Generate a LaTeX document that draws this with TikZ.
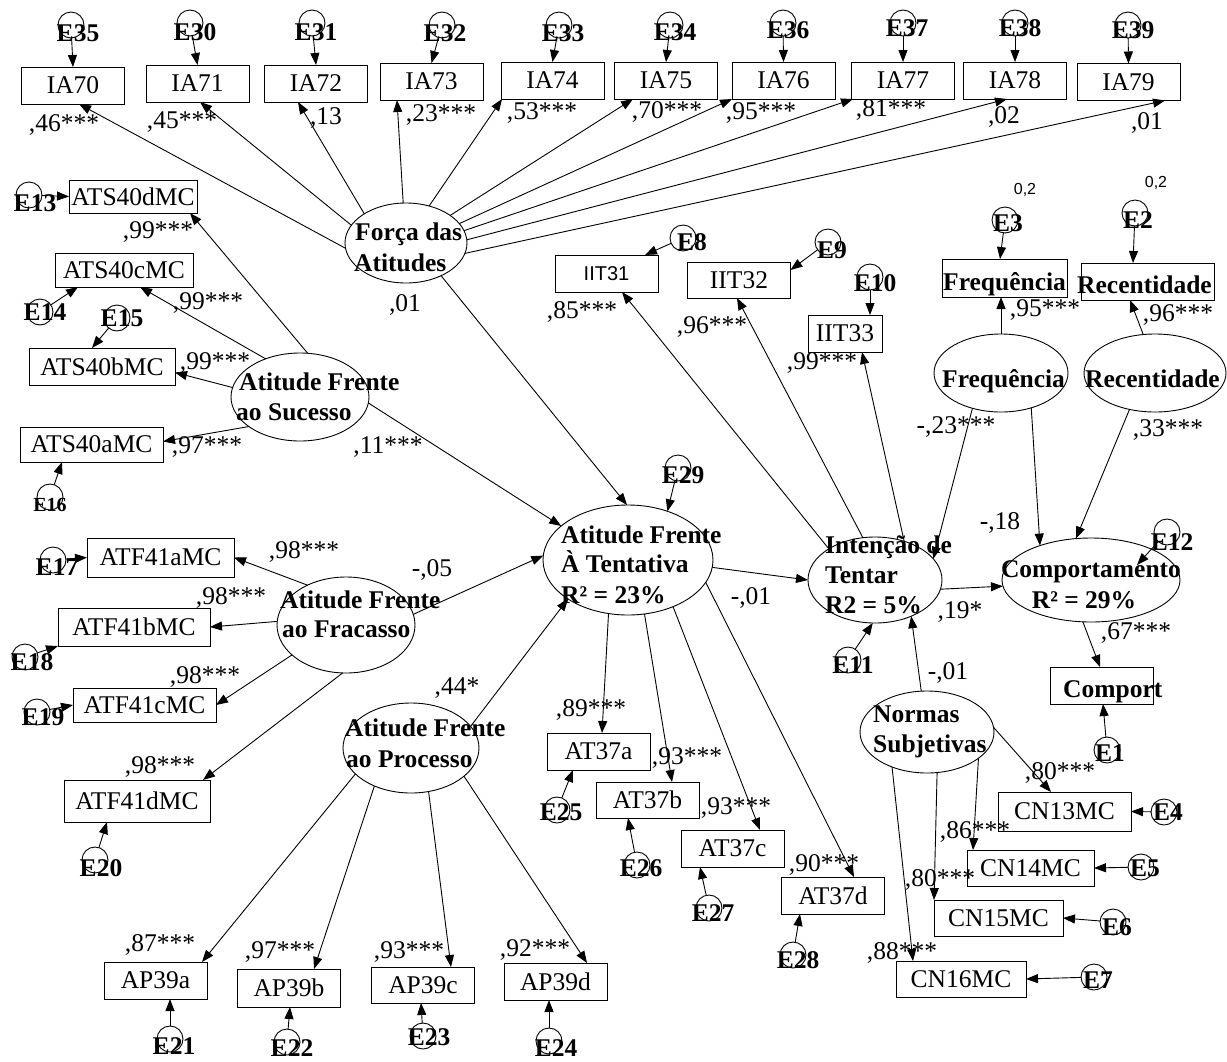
\documentclass[tikz,border=0pt]{standalone}
\usepackage{fontspec}
\setmainfont{Liberation Serif}
\newfontfamily\sanslab{Liberation Sans}
\usetikzlibrary{shapes.geometric,arrows.meta}
\newcommand\labsize{\fontsize{25.5}{30}\selectfont}

\begin{document}
\begin{tikzpicture}[x=1pt,y=-1pt,
  obs/.style={draw, rectangle, inner sep=0pt, outer sep=0pt, line width=0.9pt, font=\labsize},
  sbox/.style={obs, minimum width=103pt, minimum height=37pt},
  lat/.style={draw, ellipse, inner sep=0pt, outer sep=0pt, line width=0.9pt},
  err/.style={draw, circle, minimum size=26pt, inner sep=0pt, outer sep=0pt, line width=0.9pt},
  elab/.style={font=\labsize\bfseries, inner sep=0pt},
  ltxt/.style={font=\labsize\bfseries, inner sep=0pt, anchor=base west},
  coef/.style={font=\labsize, inner sep=0pt},
  small/.style={font=\sanslab\fontsize{16}{18}\selectfont, inner sep=0pt},
  arr/.style={-{Triangle[length=12pt,width=9pt]}, line width=0.9pt},
]
\fill[white] (0,0) rectangle (1227,1061);
\useasboundingbox (0,0) rectangle (1227,1061);

% ---------- latent variables ----------
\node[lat, minimum width=122pt, minimum height=80pt]  (forca) at (406,243) {};
\node[lat, minimum width=138pt, minimum height=88pt]  (ats)   at (300,397) {};
\node[lat, minimum width=138pt, minimum height=96pt]  (fra)   at (346,625) {};
\node[lat, minimum width=136pt, minimum height=90pt]  (pro)   at (411,748) {};
\node[lat, minimum width=170pt, minimum height=110pt] (att)   at (628,560) {};
\node[lat, minimum width=134pt, minimum height=86pt]  (int)   at (875,580) {};
\node[lat, minimum width=178pt, minimum height=84pt]  (com)   at (1091,580) {};
\node[lat, minimum width=134pt, minimum height=82pt]  (nor)   at (927,732) {};
\node[lat, minimum width=134pt, minimum height=78pt]  (freq)  at (1001,373) {};
\node[lat, minimum width=142pt, minimum height=78pt]  (rec)   at (1155,373) {};

\node[ltxt] (forca-a) at (355,240) {Força das};
\node[ltxt] (forca-b) at (354,271) {Atitudes};
\node[ltxt] (ats-a) at (239,390) {Atitude Frente};
\node[ltxt] (ats-b) at (236,420) {ao Sucesso};
\node[ltxt] (fra-a) at (280,608) {Atitude Frente};
\node[ltxt] (fra-b) at (282,637) {ao Fracasso};
\node[ltxt] (pro-a) at (345,736) {Atitude Frente};
\node[ltxt] (pro-b) at (346,767) {ao Processo};
\node[ltxt] (att-a) at (561,543) {Atitude Frente};
\node[ltxt] (att-b) at (561,572) {À Tentativa};
\node[ltxt] (att-c) at (561,603) {R² = 23\%};
\node[ltxt] (int-a) at (825,553) {Intenção de};
\node[ltxt] (int-b) at (825,583) {Tentar};
\node[ltxt] (int-c) at (825,613) {R2 = 5\%};
\node[ltxt, anchor=base] (com-a) at (1091,577) {Comportamento};
\node[ltxt, anchor=base] (com-b) at (1084,608) {R² = 29\%};
\node[ltxt] (nor-a) at (873,722) {Normas};
\node[ltxt] (nor-b) at (873,752) {Subjetivas};
\node[ltxt] (freq-a) at (942,387) {Frequência};
\node[ltxt] (rec-a) at (1085,387) {Recentidade};

% ---------- observed variables ----------
\node[sbox] (ia70) at (73,85.5) {IA70};
\node[sbox] (ia71) at (197.5,83.5) {IA71};
\node[sbox] (ia72) at (316,83.5) {IA72};
\node[sbox] (ia73) at (431.5,81.5) {IA73};
\node[sbox] (ia74) at (552.5,80.5) {IA74};
\node[sbox] (ia75) at (666,80.5) {IA75};
\node[sbox] (ia76) at (783.5,80.5) {IA76};
\node[sbox] (ia77) at (903,80.5) {IA77};
\node[sbox] (ia78) at (1015,80.5) {IA78};
\node[sbox] (ia79) at (1128.5,82) {IA79};

\node[obs, minimum width=128pt, minimum height=33pt] (ats40d) at (133,196.5) {ATS40dMC};
\node[obs, minimum width=138pt, minimum height=34pt] (ats40c) at (124,270) {ATS40cMC};
\node[obs, minimum width=146pt, minimum height=37pt] (ats40b) at (102,366.5) {ATS40bMC};
\node[obs, minimum width=143pt, minimum height=35pt] (ats40a) at (91.5,444.5) {ATS40aMC};

\node[obs, minimum width=147pt, minimum height=39pt] (atf41a) at (160.5,557.5) {ATF41aMC};
\node[obs, minimum width=152pt, minimum height=38pt] (atf41b) at (134,627) {ATF41bMC};
\node[obs, minimum width=143pt, minimum height=34pt] (atf41c) at (144.5,705) {ATF41cMC};
\node[obs, minimum width=146pt, minimum height=42pt] (atf41d) at (137,801) {ATF41dMC};

\node[sbox] (ap39a) at (155.5,980.5) {AP39a};
\node[sbox, minimum height=38pt] (ap39b) at (289,988) {AP39b};
\node[sbox, minimum height=36pt] (ap39c) at (423,985) {AP39c};
\node[sbox] (ap39d) at (555.5,981.5) {AP39d};

\node[sbox] (at37a) at (598.5,751.5) {AT37a};
\node[sbox, minimum height=36pt] (at37b) at (647.5,800) {AT37b};
\node[sbox] (at37c) at (732.5,848.5) {AT37c};
\node[sbox] (at37d) at (833,895.5) {AT37d};

\node[sbox, font=\sanslab\fontsize{20}{24}\selectfont] (iit31) at (606.5,273.5) {IIT31};
\node[sbox, minimum height=36pt] (iit32) at (739,280) {IIT32};
\node[obs, minimum width=74pt, minimum height=37pt] (iit33) at (845,333.5) {IIT33};

\node[obs, minimum width=125pt, minimum height=38pt] (freqb) at (1004.5,278) {};
\node[ltxt] (freqb-t) at (943,290) {Frequência};
\node[obs, minimum width=133pt, minimum height=37pt] (recb) at (1147.5,281.5) {};
\node[ltxt] (recb-t) at (1077,293) {Recentidade};
\node[sbox] (comport) at (1101.5,685.5) {};
\node[ltxt] (comport-t) at (1063,697) {Comport};

\node[obs, minimum width=133pt, minimum height=39pt] (cn13) at (1064.5,811.5) {CN13MC};
\node[obs, minimum width=127pt, minimum height=36pt] (cn14) at (1030.5,868) {CN14MC};
\node[obs, minimum width=129pt, minimum height=36pt] (cn15) at (998.5,918) {CN15MC};
\node[obs, minimum width=130pt, minimum height=36pt] (cn16) at (961,979) {CN16MC};

% ---------- error terms ----------
\foreach \n/\cx/\cy/\lx/\ly in {
  35/71/25/78/33, 30/190/23/195/32, 31/312/23/316/32, 32/442/25/445/33,
  33/559/25/563/33, 34/670/25/675/32, 36/783/23/788/30, 37/903/23/907/28,
  38/1015/23/1020/28, 39/1128/25/1133/30,
  13/29/195/35/203, 14/40/312/45/312, 15/117/318/122/318,
  17/53/560/57/567, 18/25/657/32/662, 19/37/712/43/717, 20/95/860/101/868,
  21/170/1039/174/1046, 22/287/1042/292/1048, 23/423/1036/429/1037,
  24/549/1041/556/1048, 25/557/810/561/812, 26/637/865/641/868,
  27/709/908/713/913, 28/793/955/798/960, 29/678/468/683/475,
  8/683/238/692/242, 9/828/242/832/250, 10/870/277/875/283,
  3/1005/220/1008/223, 2/1135/213/1138/220, 11/848/660/853/665,
  12/1167/532/1172/542, 1/1107/750/1110/753, 4/1164/812/1168/812,
  5/1141/867/1145/868, 6/1113/922/1117/927, 7/1094/977/1098/980}{
  \node[err] (e\n) at (\cx,\cy) {};
  \node[elab] (e\n-t) at (\lx,\ly) {E\n};
}
\node[err] (e16) at (50,497) {};
\node[elab, font=\bfseries\fontsize{20}{24}\selectfont] (e16-t) at (50,505) {E16};
\coordinate (com-e12) at (1137,565);

\node[small] (v3) at (1025,190) {0,2};
\node[small] (v2) at (1156,183) {0,2};

% ---------- measurement paths ----------
\draw[arr] (forca.185) -- ([xshift=6]ia70.south);
\draw[arr] (forca.162) -- ([xshift=2.5]ia71.south);
\draw[arr] (forca.145) -- ([xshift=-18]ia72.south);
\draw[arr] (forca.94)  -- ([xshift=-34.5]ia73.south);
\draw[arr] (forca.58)  -- ([xshift=-50.5]ia74.south);
\draw[arr] (forca.32)  -- ([xshift=-33]ia75.south);
\draw[arr] (forca.20)  -- ([xshift=-51.5]ia76.south);
\draw[arr] (forca.12)  -- ([xshift=-50]ia77.south);
\draw[arr] (forca.3)   -- ([xshift=-8]ia78.south);
\draw[arr] (forca.-10) -- ([xshift=36.5]ia79.south);

\draw[arr] (ats.80)  -- ([xshift=57]ats40d.south);
\draw[arr] (ats.132) -- ([xshift=16]ats40c.south);
\draw[arr] (ats.172) -- ([yshift=-6]ats40b.east);
\draw[arr] (ats.210) -- ([yshift=3]ats40a.east);

\draw[arr] (fra.134) -- (atf41a.east);
\draw[arr] (fra.177) -- (atf41b.east);
\draw[arr] (fra.209) -- (atf41c.east);
\draw[arr] (fra.266) -- ([xshift=66]atf41d.north);

\draw[arr] (pro.205) -- ([xshift=46.5]ap39a.north);
\draw[arr] (pro.226) -- ([xshift=25]ap39b.north);
\draw[arr] (pro.-68) -- ([xshift=28]ap39c.north);
\draw[arr] (pro.-28) -- ([xshift=31.5]ap39d.north);

\draw[arr] (att.250) -- ([xshift=3.5]at37a.north);
\draw[arr] (att.-73) -- ([xshift=24.5]at37b.north);
\draw[arr] (att.-46) -- ([xshift=27.5]at37c.north);
\draw[arr] (att.-16) -- ([xshift=21]at37d.north);

\draw[arr] (int.146) -- ([xshift=15.5]iit31.south);
\draw[arr] (int.106) -- ([xshift=-2]iit32.south);
\draw[arr] (int.53)  -- ([xshift=17]iit33.south);

\draw[arr] (freq.90)  -- ([xshift=-3.5]freqb.south);
\draw[arr] (rec.107)  -- ([xshift=-17.5]recb.south);
\draw[arr] (com.259)  -- ([xshift=-1.5]comport.north);

\draw[arr] (nor.4)   -- ([xshift=-13.5]cn13.north);
\draw[arr] (nor.-27) -- ([xshift=-57.5]cn14.north);
\draw[arr] (nor.-76) -- (cn15.north west);
\draw[arr] (nor.225) -- ([xshift=-48]cn16.north);

% ---------- structural paths ----------
\draw[arr] (forca.-43) -- (att.91);
\draw[arr] (ats.-5)   -- (att.153);
\draw[arr] (fra.9)    -- (att.177);
\draw[arr] (pro.20)   -- (att.213);
\draw[arr] (att.-5)   -- (int.180);
\draw[arr] (freq.231) -- (int.20);
\draw[arr] (nor.98)   -- (int.-45);
\draw[arr] (int.-8)   -- (com.184);
\draw[arr] (freq.-49) -- (com.146);
\draw[arr] (rec.235)  -- (com.110);

% ---------- error paths ----------
\draw[arr] (e35) -- (ia70.north);
\draw[arr] (e30) -- (ia71.north);
\draw[arr] (e31) -- (ia72.north);
\draw[arr] (e32) -- (ia73.north);
\draw[arr] (e33) -- (ia74.north);
\draw[arr] (e34) -- (ia75.north);
\draw[arr] (e36) -- (ia76.north);
\draw[arr] (e37) -- (ia77.north);
\draw[arr] (e38) -- (ia78.north);
\draw[arr] (e39) -- (ia79.north);
\draw[arr] (e13) -- (ats40d.west);
\draw[arr] (e14) -- ([xshift=-46]ats40c.south);
\draw[arr] (e15) -- ([xshift=-10]ats40b.north);
\draw[arr] (e16) -- ([xshift=-29.5]ats40a.south);
\draw[arr] (e17) -- (atf41a.west);
\draw[arr] (e18) -- (atf41b.south west);
\draw[arr] (e19) -- (atf41c.west);
\draw[arr] (e20) -- ([xshift=-30]atf41d.south);
\draw[arr] (e21) -- ([xshift=14.5]ap39a.south);
\draw[arr] (e22) -- ([xshift=1]ap39b.south);
\draw[arr] (e23) -- ([xshift=-2]ap39c.south);
\draw[arr] (e24) -- ([xshift=-6.5]ap39d.south);
\draw[arr] (e25) -- ([xshift=-25.5]at37a.south);
\draw[arr] (e26) -- ([xshift=-19.5]at37b.south);
\draw[arr] (e27) -- ([xshift=-32.5]at37c.south);
\draw[arr] (e28) -- ([xshift=-33]at37d.south);
\draw[arr] (e29) -- (att.51);
\draw[arr] (e8)  -- ([xshift=38.5]iit31.north);
\draw[arr] (e9)  -- ([yshift=10]iit32.east);
\draw[arr] (e10) -- ([xshift=25]iit33.north);
\draw[arr] (e3)  -- ([xshift=-4.5]freqb.north);
\draw[arr] (e2)  -- ([xshift=-14.5]recb.north);
\draw[arr] (e11) -- (int.267);
\draw[arr] (e12) -- (com-e12);
\draw[arr] (e1)  -- ([xshift=1.5]comport.south);
\draw[arr] (e4)  -- (cn13.east);
\draw[arr] (e5)  -- (cn14.east);
\draw[arr] (e6)  -- (cn15.east);
\draw[arr] (e7)  -- (cn16.east);

% ---------- coefficients ----------
\foreach \x/\y/\t [count=\i] in {
  64/125/{,46***}, 182/122/{,45***}, 326/118/{,13}, 441/115/{,23***},
  542/113/{,53***}, 667/112/{,70***}, 761/113/{,95***}, 891/110/{,81***},
  1004/117/{,02}, 1147/123/{,01}, 405/305/{,01},
  158/232/{,99***}, 208/303/{,99***}, 215/363/{,99***}, 207/447/{,97***},
  388/447/{,11***},
  304/552/{,98***}, 231/598/{,98***}, 205/677/{,98***}, 160/767/{,98***},
  432/570/{-,05},
  160/945/{,87***}, 280/952/{,97***}, 409/952/{,93***}, 535/950/{,92***},
  457/688/{,44*},
  591/710/{,89***}, 687/758/{,93***}, 736/808/{,93***}, 824/865/{,90***},
  751/598/{-,01},
  582/312/{,85***}, 712/327/{,96***}, 822/363/{,99***}, 960/612/{,19*},
  1045/310/{,95***}, 956/427/{-,23***}, 1000/523/{-,18}, 1178/315/{,96***},
  1168/430/{,33***}, 1136/633/{,67***},
  948/673/{-,01}, 1060/773/{,80***}, 975/832/{,86***}, 940/880/{,80***},
  902/953/{,88***}}{
  \node[coef] (c\i) at (\x,\y) {\t};
}
\end{tikzpicture}
\end{document}
